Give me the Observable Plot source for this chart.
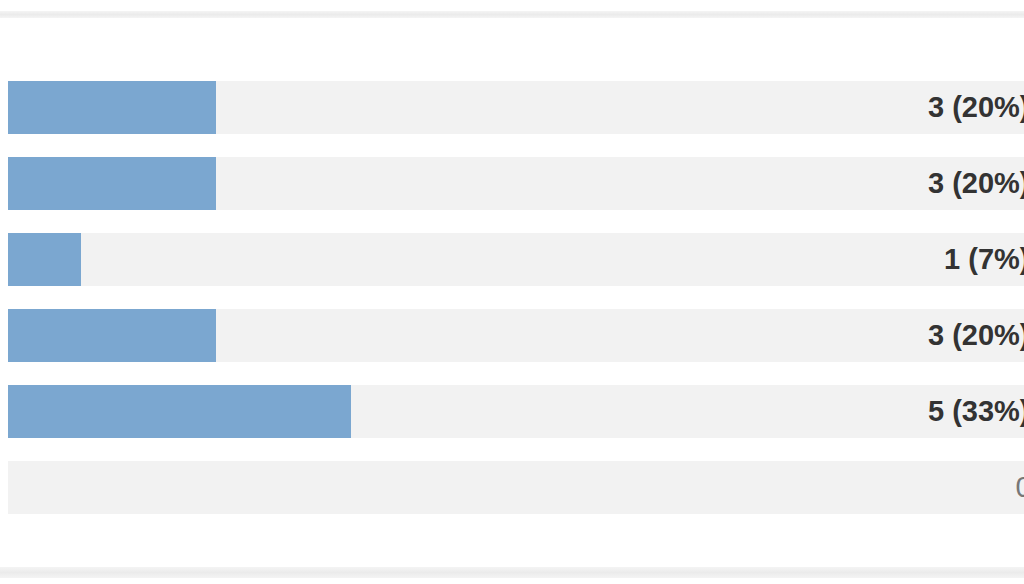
<!DOCTYPE html>
<html>
<head>
<meta charset="utf-8">
<script src="https://cdn.jsdelivr.net/npm/d3@7"></script>
<script src="https://cdn.jsdelivr.net/npm/@observablehq/plot@0.6"></script>
<style>
  html, body { margin: 0; padding: 0; background: #fff; overflow: hidden; width: 1024px; height: 584px; }
  #wrap { position: relative; width: 1024px; height: 584px; overflow: hidden; }
  .band { position: absolute; left: 0; width: 1024px; background: linear-gradient(#f4f4f4, #ebebeb, #f4f4f4); }
  #top { top: 11px; height: 7px; }
  #bottom { top: 567px; height: 11px; }
  #chart { position: absolute; left: 0; top: 0; width: 1060px; }
  #chart svg { max-width: none !important; }
</style>
</head>
<body>
<div id="wrap">
  <div id="chart"></div>
  <div class="band" id="top"></div>
  <div class="band" id="bottom"></div>
</div>
<script>
const rows = ["A", "B", "C", "D", "E", "F"];
const counts = [3, 3, 1, 3, 5, 0];
const percents = [20, 20, 7, 20, 33, 0];
const total = 15;

const data = rows.map((r, i) => ({row: r, count: counts[i], pct: percents[i], total, label: `${counts[i]} (${percents[i]}%)`}));

const chart = Plot.plot({
  width: 1060,
  height: 584,
  marginLeft: 13.5,
  marginRight: 34,
  marginTop: 67.6,
  marginBottom: 55.6,
  x: {domain: [0, total], axis: null},
  y: {domain: rows, axis: null, paddingInner: 0.297, paddingOuter: 0.1485},
  style: {fontFamily: "'Liberation Sans', Arial, sans-serif", background: "transparent", maxWidth: "none"},
  marks: [
    Plot.barX(data, {y: "row", x1: 0, x2: "total", fill: "#f2f2f2", insetLeft: -5.5, insetRight: -40}),
    Plot.barX(data.filter(d => d.count > 0), {y: "row", x1: 0, x2: "count", fill: "#7ba7d0", insetLeft: -5.5}),
    Plot.text(data.filter(d => d.count > 0), {y: "row", x: "total", text: "label", textAnchor: "end", dx: 3, fill: "#333", fontSize: 29, fontWeight: "bold"}),
    Plot.text(data.filter(d => d.count === 0), {y: "row", x: "total", text: "label", textAnchor: "start", dx: -11, fill: "#777", fontSize: 29})
  ]
});
document.getElementById("chart").appendChild(chart);
</script>
</body>
</html>
